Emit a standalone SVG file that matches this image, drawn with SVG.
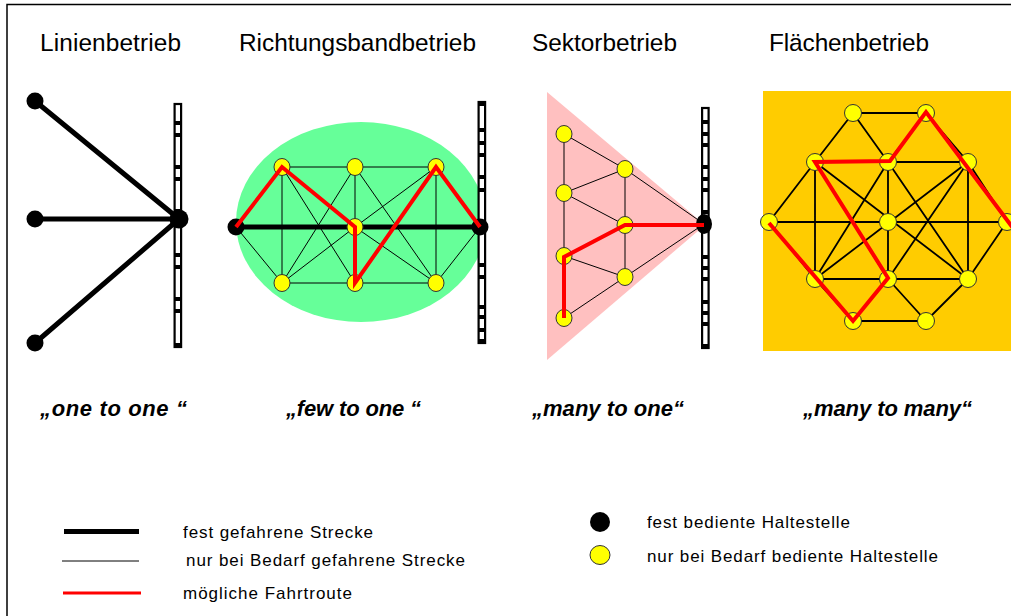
<svg xmlns="http://www.w3.org/2000/svg" width="1011" height="616" viewBox="0 0 1011 616">
<style>
.thin{stroke:#000;stroke-width:1;fill:none}
.thin4{stroke:#000;stroke-width:1.8;fill:none}
.thick{stroke:#000;stroke-width:5;fill:none}
.route{stroke:#f00;stroke-width:4;fill:none;stroke-linejoin:miter}
.ys{fill:#ff0;stroke:#333;stroke-width:1}
.bs{fill:#000}
.rail{fill:#fff;stroke:#000;stroke-width:2.2}
.ties{stroke:#000;stroke-width:4;fill:none}
.title{font-family:"Liberation Sans",Arial,sans-serif;font-size:24.4px;fill:#000}
.motto{font-family:"Liberation Sans",Arial,sans-serif;font-size:22px;font-weight:bold;font-style:italic;fill:#000}
.leg{font-family:"Liberation Sans",Arial,sans-serif;font-size:17px;fill:#000}
</style>
<rect width="1011" height="616" fill="#fff"/>
<path d="M7,616V4.5H1011" fill="none" stroke="#000" stroke-width="1.5"/>

<g id="titles">
<text class="title" x="40" y="51" textLength="141">Linienbetrieb</text>
<text class="title" x="239" y="51" textLength="237">Richtungsbandbetrieb</text>
<text class="title" x="532" y="51" textLength="145">Sektorbetrieb</text>
<text class="title" x="769" y="51" textLength="160">Flächenbetrieb</text>
</g>

<g id="backgrounds">
<ellipse cx="361" cy="222" rx="125" ry="100" fill="#66ff99"/>
<polygon points="547,92 705,225 547,360" fill="#ffc0c0"/>
<rect x="763" y="91" width="248" height="260" fill="#ffcc00"/>
</g>

<g id="tracks">
<rect class="rail" x="174.6" y="104" width="6.5" height="243"/>
<path class="ties" d="M174.5,123h7M174.5,135h7M174.5,167h7M174.5,179h7M174.5,211h7M174.5,223h7M174.5,255h7M174.5,267h7M174.5,299h7M174.5,311h7M174.5,345h7"/>
<rect class="rail" x="478.6" y="102" width="6.5" height="241"/>
<path class="ties" d="M478.5,104h7M478.5,130h7M478.5,143h7M478.5,155h7M478.5,177h7M478.5,190h7M478.5,265h7M478.5,277h7M478.5,307h7M478.5,317h7M478.5,330h7M478.5,341h7"/>
<rect class="rail" x="702.1" y="108" width="6.5" height="240"/>
<path class="ties" d="M702,122h7M702,134h7M702,145h7M702,167h7M702,179h7M702,190h7M702,212h7M702,257h7M702,268h7M702,279h7M702,302h7M702,313h7M702,324h7M702,346h7"/>
</g>

<g id="connectors">
<path class="thick" d="M35,101L179,219M35,219H179M35,343L179,219"/>
<path class="thin" d="M282,167H436M282,283H436M282,167V283M355,167V283M436,167V283M236,227L282,283M480,227L436,283M282,167L355,227M282,167L355,283M355,167L282,283M355,167L436,283M436,167L355,227M436,167L355,283M355,227L282,283M355,227L436,283M236,227L282,167M480,227L436,167"/>
<path class="thick" d="M236,227H480"/>
<path class="thin" d="M564,134V318M625,169V277M564,134L625,169L564,193L625,225L564,256L625,277L564,318M625,169L704,224M625,225H704M625,277L704,224"/>
<path class="thin4" d="M853,113H926M853,113L815,162M853,113L888,162M926,113L888,162M926,113L968,162M815,162H968M815,279H968M769,222H1007M815,162L769,222L815,279M968,162L1007,222L968,279M815,162V279M888,162V279M968,162V279M815,279L853,321H926L968,279M888,279L853,321M888,279L926,321M815,162L968,279M968,162L815,279M888,162L815,279M888,162L968,279M888,279L815,162M888,279L968,162"/>
</g>

<g id="nodes">
<g id="n1a"><circle class="bs" cx="35" cy="101" r="8.5"/></g>
<g id="n1b"><circle class="bs" cx="35" cy="219" r="8.5"/></g>
<g id="n1c"><circle class="bs" cx="35" cy="343" r="8.5"/></g>
<g id="n1hub"><circle class="bs" cx="179" cy="219" r="9.5"/></g>

<g id="n2ml"><circle class="bs" cx="236" cy="227" r="8.5"/></g>
<g id="n2mr"><circle class="bs" cx="480" cy="227" r="8.5"/></g>
<g id="n2tl"><ellipse class="ys" cx="282" cy="167" rx="8" ry="8.5"/></g>
<g id="n2tm"><ellipse class="ys" cx="355" cy="167" rx="8" ry="8.5"/></g>
<g id="n2tr"><ellipse class="ys" cx="436" cy="167" rx="8" ry="8.5"/></g>
<g id="n2mm"><ellipse class="ys" cx="355" cy="227" rx="8" ry="8.5"/></g>
<g id="n2bl"><ellipse class="ys" cx="282" cy="283" rx="8" ry="8.5"/></g>
<g id="n2bm"><ellipse class="ys" cx="355" cy="283" rx="8" ry="8.5"/></g>
<g id="n2br"><ellipse class="ys" cx="436" cy="283" rx="8" ry="8.5"/></g>

<g id="n3l1"><ellipse class="ys" cx="564" cy="134" rx="8" ry="8.5"/></g>
<g id="n3l2"><ellipse class="ys" cx="564" cy="193" rx="8" ry="8.5"/></g>
<g id="n3l3"><ellipse class="ys" cx="564" cy="256" rx="8" ry="8.5"/></g>
<g id="n3l4"><ellipse class="ys" cx="564" cy="318" rx="8" ry="8.5"/></g>
<g id="n3m1"><ellipse class="ys" cx="625" cy="169" rx="8" ry="8.5"/></g>
<g id="n3m2"><ellipse class="ys" cx="625" cy="225" rx="8" ry="8.5"/></g>
<g id="n3m3"><ellipse class="ys" cx="625" cy="277" rx="8" ry="8.5"/></g>
<g id="n3hub"><ellipse class="bs" cx="704" cy="224" rx="8" ry="10"/></g>

<g id="n4a"><ellipse class="ys" cx="853" cy="113" rx="8.5" ry="8.5"/></g>
<g id="n4b"><ellipse class="ys" cx="926" cy="113" rx="8.5" ry="8.5"/></g>
<g id="n4c"><ellipse class="ys" cx="815" cy="162" rx="8.5" ry="8.5"/></g>
<g id="n4d"><ellipse class="ys" cx="888" cy="162" rx="8.5" ry="8.5"/></g>
<g id="n4e"><ellipse class="ys" cx="968" cy="162" rx="8.5" ry="8.5"/></g>
<g id="n4f"><ellipse class="ys" cx="769" cy="222" rx="8.5" ry="8.5"/></g>
<g id="n4g"><ellipse class="ys" cx="888" cy="222" rx="8.5" ry="8.5"/></g>
<g id="n4h"><ellipse class="ys" cx="1007" cy="222" rx="8.5" ry="8.5"/></g>
<g id="n4i"><ellipse class="ys" cx="815" cy="279" rx="8.5" ry="8.5"/></g>
<g id="n4j"><ellipse class="ys" cx="888" cy="279" rx="8.5" ry="8.5"/></g>
<g id="n4k"><ellipse class="ys" cx="968" cy="279" rx="8.5" ry="8.5"/></g>
<g id="n4l"><ellipse class="ys" cx="853" cy="321" rx="8.5" ry="8.5"/></g>
<g id="n4m"><ellipse class="ys" cx="926" cy="321" rx="8.5" ry="8.5"/></g>
</g>

<g id="routes">
<path class="route" d="M236,227L282,167L355,227V283L436,167L480,227"/>
<path class="route" d="M564,318V257L625,225H704"/>
<path class="route" d="M769,223L853,321L888,278L815,162L890,161L926,112L1013,228"/>
</g>

<g id="mottos">
<text class="motto" x="40" y="416" textLength="147">„one to one “</text>
<text class="motto" x="286" y="416" textLength="135">„few to one “</text>
<text class="motto" x="532" y="416" textLength="152">„many to one“</text>
<text class="motto" x="803" y="416" textLength="169">„many to many“</text>
</g>

<g id="legend">
<line x1="64" y1="531.5" x2="139" y2="531.5" stroke="#000" stroke-width="5"/>
<line x1="62" y1="561" x2="139" y2="561" stroke="#000" stroke-width="1"/>
<line x1="63" y1="593" x2="141" y2="593" stroke="#f00" stroke-width="3"/>
<text class="leg" x="183" y="538" textLength="190">fest gefahrene Strecke</text>
<text class="leg" x="186" y="566" textLength="279">nur bei Bedarf gefahrene Strecke</text>
<text class="leg" x="183" y="599" textLength="169">mögliche Fahrtroute</text>
<g id="legend-fixed-stop"><circle class="bs" cx="600" cy="522" r="10"/></g>
<g id="legend-demand-stop"><ellipse class="ys" cx="600" cy="555" rx="10" ry="9.5"/></g>
<text class="leg" x="647" y="528" textLength="203">fest bediente Haltestelle</text>
<text class="leg" x="647" y="562" textLength="291">nur bei Bedarf bediente Haltestelle</text>
</g>
</svg>
